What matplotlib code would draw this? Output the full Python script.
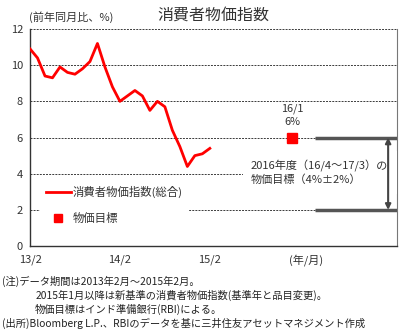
import matplotlib
matplotlib.use('Agg')
import matplotlib.pyplot as plt
import numpy as np

plt.rcParams['font.family'] = ['Noto Sans CJK JP', 'DejaVu Sans']

# --- データ ---
# 消費者物価指数(総合) 前年同月比 2013/2 ～ 2015/2
cpi = [10.9, 10.4, 9.4, 9.3, 9.9, 9.6, 9.5, 9.8, 10.2, 11.2, 9.9, 8.8, 8.0,
       8.3, 8.6, 8.3, 7.5, 8.0, 7.7, 6.4, 5.5, 4.4, 5.0, 5.1, 5.4]
months = list(range(len(cpi)))          # 0 = 2013/2
target_month = 35                       # 2016/1
target_value = 6
band_months = [38, 49]                  # 16/4 ～ 17/3
band_lo, band_hi = 2, 6
tick_pos = [0, 12, 24, 36.9]
tick_labels = ['13/2', '14/2', '15/2', '(年/月)']

fig = plt.figure(figsize=(4.04, 3.33), dpi=100)
ax = fig.add_axes([0.0743, 0.261, 0.9087, 0.652])

grid_color = '#3a3a3a'
for y in [2, 4, 6, 8, 10, 12]:
    ax.axhline(y, color=grid_color, lw=0.7, ls=(0, (2, 1.2)), zorder=1)

line, = ax.plot(months, cpi, color='#ff0000', lw=2, zorder=5)
sq, = ax.plot([target_month], [target_value], 's', color='#ff0000', ms=7, zorder=5)

# 目標レンジ
ax.plot(band_months, [band_hi, band_hi], color='#555555', lw=2.5, zorder=4, solid_capstyle='butt')
ax.plot(band_months, [band_lo, band_lo], color='#555555', lw=2.5, zorder=4, solid_capstyle='butt')
ax.annotate('', xy=(47.8, band_lo), xytext=(47.8, band_hi),
            arrowprops=dict(arrowstyle='<|-|>', color='#444444', lw=1.5,
                            mutation_scale=8, shrinkA=0, shrinkB=0), zorder=6)

ax.text(29.5, 4.06, '2016年度（16/4～17/3）の\n物価目標（4%±2%）', fontsize=8,
        color='#333333', ha='left', va='center', linespacing=1.35, zorder=3,
        bbox=dict(facecolor='white', edgecolor='none', pad=6))
ax.text(target_month, 7.22, '16/1\n6%', fontsize=7.8, color='#333333',
        ha='center', va='center', linespacing=1.4, zorder=3)

ax.set_xlim(0, 49)
ax.set_ylim(0, 12)
ax.set_yticks([0, 2, 4, 6, 8, 10, 12])
ax.set_xticks(tick_pos)
ax.set_xticklabels(tick_labels)
ax.tick_params(length=0, labelsize=8, colors='#333333', pad=6)
ax.tick_params(axis='y', pad=5)

for s in ['left', 'bottom']:
    ax.spines[s].set_color('#333333')
    ax.spines[s].set_linewidth(1.0)
ax.spines['right'].set_color('#777777')
ax.spines['right'].set_linewidth(0.8)
ax.spines['top'].set_visible(False)

leg = ax.legend([line, sq], ['消費者物価指数(総合)', '物価目標'], loc='lower left',
                bbox_to_anchor=(0.027, 0.075), fontsize=8.2, frameon=True,
                facecolor='white', edgecolor='none', framealpha=1, fancybox=False,
                handlelength=2.2, handletextpad=0.15, labelspacing=1.35,
                borderpad=0.5, borderaxespad=0.0, markerscale=0.9)
leg.set_zorder(2)
for t in leg.get_texts():
    t.set_color('#333333')

fig.text(0.528, 0.954, '消費者物価指数', fontsize=11.5, color='#333333',
         ha='center', va='center')
fig.text(0.072, 0.948, '(前年同月比、%)', fontsize=8, color='#333333',
         ha='left', va='center')

notes = [(0.005, 0.156, '(注)データ期間は2013年2月～2015年2月。'),
         (0.087, 0.114, '2015年1月以降は新基準の消費者物価指数(基準年と品目変更)。'),
         (0.087, 0.072, '物価目標はインド準備銀行(RBI)による。'),
         (0.005, 0.030, '(出所)Bloomberg L.P.、RBIのデータを基に三井住友アセットマネジメント作成')]
for x, y, s in notes:
    fig.text(x, y, s, fontsize=7.4, color='#222222', ha='left', va='center')

plt.savefig('out.png', dpi=100)
plt.close()
